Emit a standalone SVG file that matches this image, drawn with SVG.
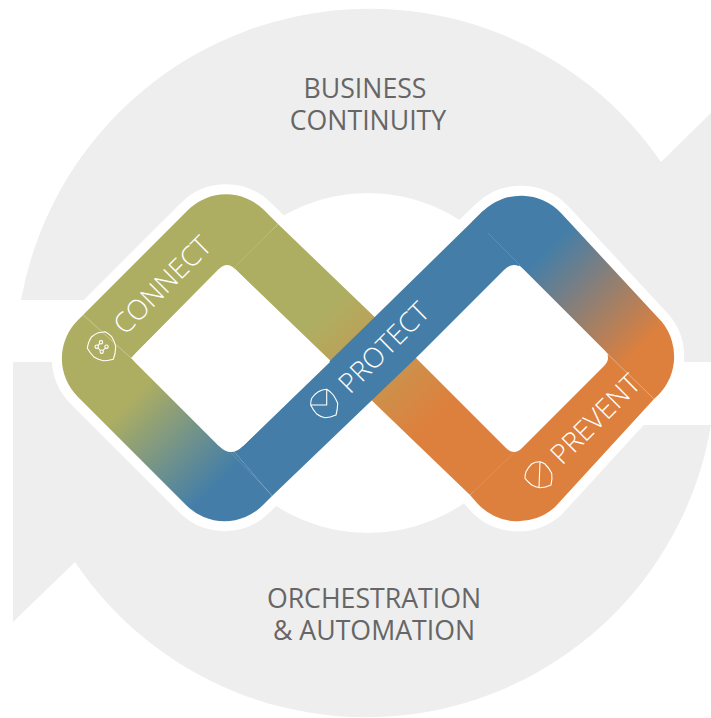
<svg xmlns="http://www.w3.org/2000/svg" width="711" height="718" viewBox="0 0 711 718">
<style>
.bg{fill:#eeeeee}
.cap{font-family:"Open Sans","Liberation Sans",sans-serif;font-size:26.7px;fill:#666666;text-anchor:middle}
.lbl{font-family:"Open Sans","Liberation Sans",sans-serif;font-size:27.6px;font-weight:300;fill:#ffffff}
.ic{fill:none;stroke:#ffffff;stroke-width:1.1;stroke-linejoin:round}
.halo path{fill:#fff;stroke:#fff;stroke-width:20;stroke-linejoin:round}
.seam{stroke:#ffffff;stroke-opacity:.16;stroke-width:.8;fill:none}
</style>
<defs>
<linearGradient id="gOB" gradientUnits="userSpaceOnUse" x1="130" y1="400" x2="215" y2="485"><stop offset="0" stop-color="#aeae62"/><stop offset="1" stop-color="#447ea8"/></linearGradient>
<linearGradient id="gOO" gradientUnits="userSpaceOnUse" x1="320" y1="320" x2="425" y2="425"><stop offset="0" stop-color="#aeae62"/><stop offset="1" stop-color="#dd803d"/></linearGradient>
<linearGradient id="gBO" gradientUnits="userSpaceOnUse" x1="520" y1="277" x2="617" y2="373"><stop offset="0" stop-color="#447ea8"/><stop offset="1" stop-color="#dd803d"/></linearGradient>
</defs>
<g id="background">
<path class="bg" d="M21,300A354,354 0 0 1 661,162L711,113V362H362V300Z"/>
<path class="bg" d="M13,362V622L75,562A350,350 0 0 0 711,425H362V362Z"/>
<circle cx="368" cy="363" r="170" fill="#fff"/>
</g>
<g class="halo">
<path d="M83,315L188,210A54,54 0 0 1 264,210L515,452L470,495L234,268L133,358Z"/>
<path d="M83,315L78,320A54,54 0 0 0 78,397L186,505A54,54 0 0 0 263,505L272,496L231,456L133,358Z"/>
<path d="M272,496L231,456L483,211A55,55 0 0 1 561,213L662,322A55,55 0 0 1 654,399L555,507A55,55 0 0 1 477,503L470,495L515,452L608,358L514,260L416,358Z"/>
</g>
<g id="prevent-band-back">
<path fill="url(#gOO)" d="M278,224L515,452L470,495L234,268Z"/>
</g>
<g id="connect">
<path fill="#aeae62" d="M83,315L188,210A54,54 0 0 1 264,210L278,224L235,269L227,275L219,269L131,358Z"/>
<path fill="url(#gOB)" d="M83,315L78,320A54,54 0 0 0 78,397L186,505A54,54 0 0 0 263,505L272,496L231,448L219,446L131,358Z"/>
<path class="seam" d="M278,224L234,268M83,314L133,360"/>
<text class="lbl" transform="translate(125,336) rotate(-45)">CONNECT</text>
<path class="ic" d="M105,331.7Q109,333.5 111.7,336.7Q114.5,341 115.7,346.7Q115.5,354 113.3,359.3Q108,361 103.3,360.7Q98,359.5 94.3,357.3Q90,353 87.3,348.3Q88.5,341 91.7,336.7Q95,334 98.3,332.7Q102,332 105,331.7Z"/>
<g class="ic" stroke-width=".9"><circle cx="101" cy="342.3" r="1.7"/><circle cx="96.7" cy="346.7" r="1.7"/><circle cx="106.5" cy="346.7" r="1.7"/><circle cx="101.7" cy="351.7" r="1.7"/><path d="M99.8,343.5L97.9,345.5M98,347.9L100.4,350.5M105.3,348L103,350.5"/></g>
</g>
<g id="protect">
<path fill="#447ea8" d="M272,496L231,448L243,446L483,211L520,265L416,358Z"/>
<path class="seam" d="M272,495L231,453"/>
<text class="lbl" transform="translate(350,395) rotate(-45)">PROTECT</text>
<path class="ic" d="M326.7,389.3Q330.5,391.5 333.3,395Q336,399 337.7,403.3Q337.5,410 336,415Q330,417.5 325,417.7Q320,416.5 316.7,414Q313,410 310.7,405Q310.5,401.5 311.7,398.3Q314.5,394 318.3,391.7Q322,389.5 326.7,389.3ZM326.7,389.3V405H310.7"/>
</g>
<g id="prevent">
<path fill="url(#gBO)" d="M472,222L483,211A55,55 0 0 1 561,213L662,322A55,55 0 0 1 654,399L608,354L514,260Z"/>
<path fill="#dd803d" d="M608,354L654,399L555,507A55,55 0 0 1 477,503L470,495L514,446L604,364Z"/>
<path class="seam" d="M488,233L520,265M608,355L653,398M515,452L470,495"/>
<text class="lbl" transform="translate(562,466) rotate(-45)">PREVENT</text>
<path class="ic" d="M540,461.7Q543,462.5 545,464Q549,468 551.7,473.3Q552.5,479 551,485Q545.5,487.5 540,487.7Q535.5,487 531.7,485Q528,482 525,478.3Q525,475 526,471.7Q528.5,467 531.7,464Q535.5,461.5 540,461.7ZM540,461.7L539,487.7"/>
</g>
<g id="holes" fill="#fff">
<path d="M219,269Q227,261 235,269L330,362L243,446Q231,458 219,446L135,362Q131,358 135,354Z"/>
<path d="M504,270Q514,260 524,270L604,350Q612,358 604,366L522,448Q514,456 506,448L416,358Z"/>
</g>
<g id="captions">
<text class="cap" x="365" y="98">BUSINESS</text>
<text class="cap" x="368" y="130">CONTINUITY</text>
<text class="cap" x="374" y="608">ORCHESTRATION</text>
<text class="cap" x="374" y="640">&amp; AUTOMATION</text>
</g>
</svg>
